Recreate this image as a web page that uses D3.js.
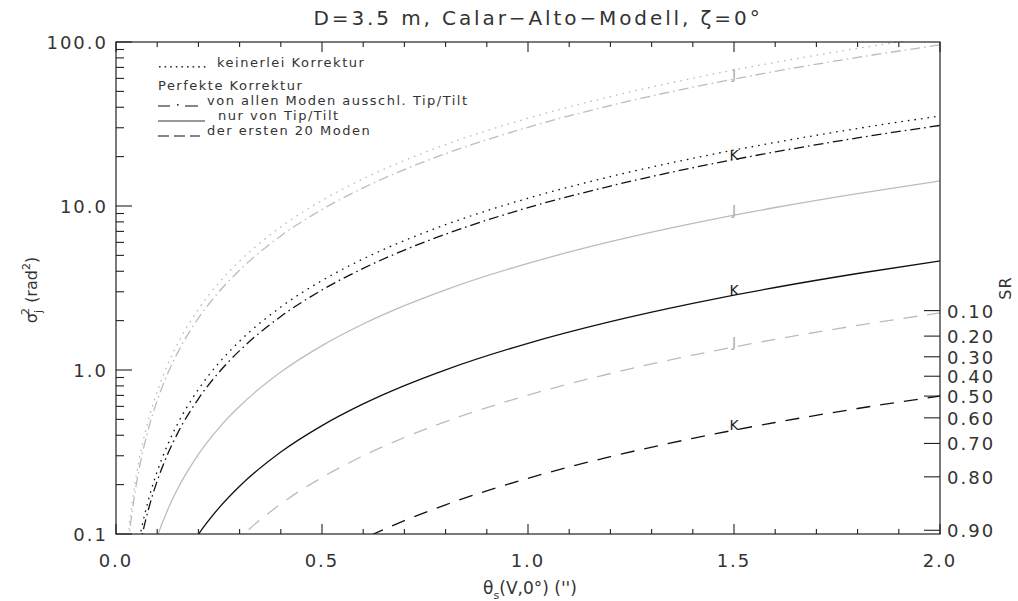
<!DOCTYPE html>
<html>
<head>
<meta charset="utf-8">
<script src="https://cdn.jsdelivr.net/npm/d3@7"></script>
<style>
  html, body { margin: 0; padding: 0; background: #fff; }
  svg { display: block; }
  text { font-family: "DejaVu Sans", "Liberation Sans", sans-serif; fill: #333; }
</style>
</head>
<body>
<svg id="chart" width="1018" height="601"></svg>
<script>
// Isoplanatic angle (arcsec) at which the residual phase variance is sampled
const theta = [0.025, 0.03, 0.04, 0.05, 0.06, 0.08, 0.1, 0.125, 0.15, 0.2, 0.25, 0.3,
               0.4, 0.5, 0.6, 0.7, 0.8, 1.0, 1.2, 1.4, 1.5, 1.6, 1.8, 2.0];

// Residual phase variance sigma_j^2 (rad^2), J band
const J_none   = [0.0735, 0.0994, 0.161, 0.233, 0.316, 0.510, 0.740, 1.073, 1.454, 2.35, 3.41, 4.61,
                  7.46, 10.81, 14.65, 18.94, 23.7, 34.3, 46.5, 60.1, 67.5, 75.1, 91.5, 109];
const J_noTT   = [0.0647, 0.0876, 0.1415, 0.205, 0.278, 0.449, 0.652, 0.945, 1.281, 2.07, 3.00, 4.06,
                  6.57, 9.52, 12.90, 16.68, 20.85, 30.2, 41.0, 53.0, 59.4, 66.2, 80.5, 96];
const J_TT     = [0.00957, 0.01295, 0.0209, 0.0304, 0.0411, 0.0665, 0.0964, 0.1398, 0.1894, 0.306, 0.444, 0.601,
                  0.971, 1.409, 1.908, 2.468, 3.084, 4.47, 6.06, 7.84, 8.79, 9.79, 11.91, 14.2];
const J_20     = [0.0015, 0.00203, 0.00329, 0.00477, 0.00646, 0.01044, 0.01514, 0.02195, 0.02975, 0.0480, 0.0697, 0.0944,
                  0.1525, 0.2212, 0.2997, 0.3876, 0.4844, 0.702, 0.952, 1.231, 1.381, 1.537, 1.871, 2.23];

// Residual phase variance sigma_j^2 (rad^2), K band
const K_none   = [0.0239, 0.0323, 0.0522, 0.0757, 0.1025, 0.1657, 0.2404, 0.3484, 0.4722, 0.7625, 1.106, 1.498,
                  2.421, 3.512, 4.758, 6.153, 7.689, 11.15, 15.11, 19.53, 21.92, 24.40, 29.70, 35.4];
const K_noTT   = [0.0209, 0.0283, 0.0457, 0.0663, 0.0897, 0.1451, 0.2105, 0.3051, 0.4135, 0.6677, 0.969, 1.312,
                  2.120, 3.075, 4.166, 5.388, 6.733, 9.77, 13.23, 17.11, 19.19, 21.37, 26.01, 31.0];
const K_TT     = [0.00311, 0.00421, 0.00681, 0.00988, 0.01337, 0.02162, 0.03137, 0.04547, 0.06163, 0.0995, 0.1444, 0.1956,
                  0.316, 0.458, 0.621, 0.803, 1.003, 1.455, 1.972, 2.549, 2.86, 3.185, 3.876, 4.62];
const K_20     = [0.00047, 0.00063, 0.00102, 0.00148, 0.00201, 0.00325, 0.00471, 0.00683, 0.00926, 0.01495, 0.02169, 0.02938,
                  0.0475, 0.0688, 0.0933, 0.1206, 0.1507, 0.2186, 0.2962, 0.383, 0.4297, 0.4784, 0.5823, 0.694];

// Axis ticks
const xMajor = [0.0, 0.5, 1.0, 1.5, 2.0];
const yMajor = [0.1, 1.0, 10.0, 100.0];
const srTicks = [0.10, 0.20, 0.30, 0.40, 0.50, 0.60, 0.70, 0.80, 0.90];

// Curve labels are placed at this abscissa
const labelTheta = 1.5;

const GRAY = "#bcbcbc", BLACK = "#111";
const styles = {
  none: "1.6,5",
  noTT: "10,4,1.6,4",
  TT:   null,
  m20:  "14,10"
};

const series = [
  { name: "J", values: J_none, color: GRAY,  dash: styles.none, label: false },
  { name: "J", values: J_noTT, color: GRAY,  dash: styles.noTT, label: true },
  { name: "J", values: J_TT,   color: GRAY,  dash: styles.TT,   label: true },
  { name: "J", values: J_20,   color: GRAY,  dash: styles.m20,  label: true },
  { name: "K", values: K_none, color: BLACK, dash: styles.none, label: false },
  { name: "K", values: K_noTT, color: BLACK, dash: styles.noTT, label: true },
  { name: "K", values: K_TT,   color: BLACK, dash: styles.TT,   label: true },
  { name: "K", values: K_20,   color: BLACK, dash: styles.m20,  label: true }
];

const svg = d3.select("#chart");
const L = 116, R = 940, T = 42, B = 534;

const x = d3.scaleLinear().domain([0, 2]).range([L, R]);
const y = d3.scaleLog().domain([0.1, 100]).range([B, T]);

svg.append("defs").append("clipPath").attr("id", "plotclip")
  .append("rect").attr("x", L).attr("y", T - 1).attr("width", R - L).attr("height", B - T + 1);

// Curves
const line = d3.line()
  .x((d, i) => x(theta[i]))
  .y(d => y(d))
  .curve(d3.curveMonotoneX);

const g = svg.append("g").attr("clip-path", "url(#plotclip)");
series.forEach(s => {
  g.append("path")
    .attr("d", line(s.values))
    .attr("fill", "none")
    .attr("stroke", s.color)
    .attr("stroke-width", 1.3)
    .attr("stroke-dasharray", s.dash);
});

// Curve labels
const li = theta.indexOf(labelTheta);
series.filter(s => s.label).forEach(s => {
  svg.append("text")
    .attr("x", x(labelTheta))
    .attr("y", y(s.values[li]))
    .attr("text-anchor", "middle")
    .style("font-size", "14px")
    .style("fill", s.color === GRAY ? "#aaa" : "#222")
    .text(s.name);
});

// Frame
svg.append("rect").attr("x", L).attr("y", T).attr("width", R - L).attr("height", B - T)
  .attr("fill", "none").attr("stroke", "#222").attr("stroke-width", 1.2);

// Bottom and top x ticks (inward), minor every 0.1
const xMinor = x.ticks(20);
const tickG = svg.append("g").attr("stroke", "#222").attr("stroke-width", 1.1);
xMinor.forEach(v => {
  const major = xMajor.some(m => Math.abs(m - v) < 1e-9);
  const len = major ? 10 : 5;
  tickG.append("line").attr("x1", x(v)).attr("x2", x(v)).attr("y1", B).attr("y2", B - len);
  tickG.append("line").attr("x1", x(v)).attr("x2", x(v)).attr("y1", T).attr("y2", T + len);
});
xMajor.forEach(v => {
  svg.append("text").attr("x", x(v)).attr("y", 567)
    .attr("text-anchor", "middle")
    .style("font-size", "18px").style("letter-spacing", "2px")
    .text(v.toFixed(1));
});

// Left log axis
y.ticks().forEach(v => {
  const major = yMajor.some(m => Math.abs(m - v) / m < 1e-6);
  const len = major ? 16 : 8;
  tickG.append("line").attr("x1", L).attr("x2", L + len).attr("y1", y(v)).attr("y2", y(v));
});
yMajor.forEach(v => {
  svg.append("text").attr("x", 108).attr("y", y(v) + 7)
    .attr("text-anchor", "end")
    .style("font-size", "18px").style("letter-spacing", "2px")
    .text(v.toFixed(1));
});

// Right axis: Strehl ratio SR = exp(-sigma^2)
srTicks.forEach(sr => {
  const v = -Math.log(sr);
  tickG.append("line").attr("x1", R).attr("x2", R - 16).attr("y1", y(v)).attr("y2", y(v));
  svg.append("text").attr("x", 947).attr("y", y(v) + 7)
    .style("font-size", "18px").style("letter-spacing", "2px")
    .text(sr.toFixed(2));
});

// Title
svg.append("text").attr("x", 538).attr("y", 25).attr("text-anchor", "middle")
  .style("font-size", "20px").style("letter-spacing", "2.9px")
  .text("D=3.5 m, Calar\u2212Alto\u2212Modell, \u03B6=0\u00B0");

// X axis title
const xt = svg.append("text").attr("x", 530).attr("y", 594).attr("text-anchor", "middle")
  .style("font-size", "17px");
xt.append("tspan").text("\u03B8");
xt.append("tspan").attr("dy", 5).style("font-size", "11px").text("s");
xt.append("tspan").attr("dy", -5).text("(V,0\u00B0)  ('')");

// Y axis title
const yt = svg.append("text").attr("transform", "translate(37,290) rotate(-90)")
  .attr("text-anchor", "middle").style("font-size", "16px");
yt.append("tspan").text("\u03C3");
yt.append("tspan").attr("dy", 5).style("font-size", "11px").text("j");
yt.append("tspan").attr("dx", -5).attr("dy", -13).style("font-size", "11px").text("2");
yt.append("tspan").attr("dy", 8).text("  (rad");
yt.append("tspan").attr("dy", -7).style("font-size", "11px").text("2");
yt.append("tspan").attr("dy", 7).text(")");

// Right axis title
svg.append("text").attr("transform", "translate(1011,288) rotate(-90)")
  .attr("text-anchor", "middle").style("font-size", "16px").style("letter-spacing", "1px")
  .text("SR");

// Legend: keys drawn as short marks, then the descriptions
const legendX = 158;
const legend = [
  { key: "dots",    text: "keinerlei Korrektur",               yy: 67,  tx: 217 },
  { key: null,      text: "Perfekte Korrektur",                yy: 90,  tx: 158 },
  { key: "dashdot", text: "von allen Moden ausschl. Tip/Tilt", yy: 105, tx: 207 },
  { key: "solid",   text: "nur von Tip/Tilt",                  yy: 120, tx: 218 },
  { key: "dashes",  text: "der ersten 20 Moden",               yy: 135, tx: 207 }
];
const keyG = svg.append("g").attr("stroke", "#333").attr("stroke-width", 1.2).attr("fill", "#333");
legend.forEach(d => {
  const by = d.yy + 1;
  if (d.key === "dots") {
    d3.range(9).forEach(i => keyG.append("rect")
      .attr("x", legendX + 1 + i * 5.6).attr("y", by - 2).attr("width", 1.6).attr("height", 1.6)
      .attr("stroke", "none"));
  } else if (d.key === "dashdot") {
    keyG.append("line").attr("x1", legendX).attr("x2", legendX + 12).attr("y1", by).attr("y2", by);
    keyG.append("rect").attr("x", legendX + 19).attr("y", by - 2).attr("width", 1.6).attr("height", 1.6).attr("stroke", "none");
    keyG.append("line").attr("x1", legendX + 27).attr("x2", legendX + 40).attr("y1", by).attr("y2", by);
  } else if (d.key === "solid") {
    keyG.append("line").attr("x1", legendX).attr("x2", legendX + 47).attr("y1", by).attr("y2", by);
  } else if (d.key === "dashes") {
    [[0, 11], [16, 27], [32, 42]].forEach(([a, b]) =>
      keyG.append("line").attr("x1", legendX + a).attr("x2", legendX + b).attr("y1", by).attr("y2", by));
  }
  svg.append("text").attr("x", d.tx).attr("y", d.yy)
    .style("font-size", "13px").style("letter-spacing", "1.5px")
    .text(d.text);
});
</script>
</body>
</html>
